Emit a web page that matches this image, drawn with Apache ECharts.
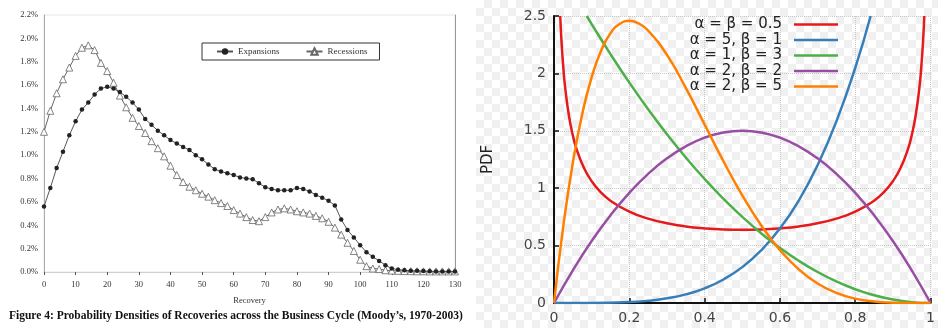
<!DOCTYPE html>
<html>
<head>
<meta charset="utf-8">
<script src="https://cdn.jsdelivr.net/npm/echarts@6/dist/echarts.min.js"></script>
<style>
  html, body { margin: 0; padding: 0; background: #fff; }
  #wrap { position: relative; width: 938px; height: 328px; }
  #checker {
    position: absolute; left: 476px; top: 0; width: 462px; height: 328px;
    background-image: conic-gradient(#f0f0f0 25%, #fff 0 50%, #f0f0f0 0 75%, #fff 0);
    background-size: 16px 16px;
  }
  #main { position: absolute; left: 0; top: 0; width: 938px; height: 328px; }
</style>
</head>
<body>
<div id="wrap">
  <div id="checker"></div>
  <div id="main"></div>
</div>
<script>
// left panel: recovery densities (percent)
var recovery = [0, 2, 4, 6, 8, 10, 12, 14, 16, 18, 20, 22, 24, 26, 28, 30, 32, 34, 36, 38,
  40, 42, 44, 46, 48, 50, 52, 54, 56, 58, 60, 62, 64, 66, 68, 70, 72, 74, 76, 78,
  80, 82, 84, 86, 88, 90, 92, 94, 96, 98, 100, 102, 104, 106, 108, 110, 112, 114, 116, 118,
  120, 122, 124, 126, 128, 130]
var expansions = [0.56, 0.72, 0.89, 1.03, 1.17, 1.29, 1.39, 1.45, 1.52, 1.57, 1.585,
  1.57, 1.54, 1.50, 1.45, 1.39, 1.31, 1.26, 1.21, 1.17, 1.13,
  1.10, 1.07, 1.045, 1.00, 0.965, 0.92, 0.88, 0.86, 0.845, 0.83,
  0.81, 0.80, 0.795, 0.76, 0.725, 0.71, 0.70, 0.70, 0.70, 0.72,
  0.71, 0.69, 0.66, 0.635, 0.61, 0.57, 0.45, 0.36, 0.295, 0.23,
  0.17, 0.13, 0.095, 0.058, 0.03, 0.02, 0.015, 0.01, 0.01, 0.008,
  0.006, 0.005, 0.005, 0.005, 0.005]
var recessions = [1.20, 1.38, 1.53, 1.65, 1.75, 1.85, 1.92, 1.94, 1.90, 1.79, 1.72,
  1.62, 1.51, 1.41, 1.32, 1.25, 1.19, 1.12, 1.06, 0.99, 0.91,
  0.83, 0.77, 0.73, 0.70, 0.67, 0.645, 0.615, 0.59, 0.565, 0.53,
  0.50, 0.47, 0.445, 0.435, 0.47, 0.51, 0.535, 0.545, 0.535, 0.52,
  0.51, 0.50, 0.48, 0.46, 0.43, 0.38, 0.32, 0.25, 0.18, 0.105,
  0.05, 0.03, 0.025, 0.015, 0.012, 0.01, 0.008, 0.007, 0.006, 0.006,
  0.005, 0.005, 0.005, 0.005, 0.005]

// right panel: beta pdf curves, [x, pdf]
var betaHalfHalf = [[0.0165, 2.5], [0.02, 2.274], [0.025, 2.039], [0.03, 1.866], [0.04, 1.624],
  [0.05, 1.461], [0.06, 1.340], [0.08, 1.173], [0.1, 1.061], [0.125, 0.962], [0.15, 0.891],
  [0.2, 0.796], [0.25, 0.735], [0.3, 0.695], [0.35, 0.667], [0.4, 0.650], [0.45, 0.640],
  [0.5, 0.637], [0.55, 0.640], [0.6, 0.650], [0.65, 0.667], [0.7, 0.695], [0.75, 0.735],
  [0.8, 0.796], [0.85, 0.891], [0.875, 0.962], [0.9, 1.061], [0.92, 1.173], [0.94, 1.340],
  [0.95, 1.461], [0.96, 1.624], [0.97, 1.866], [0.975, 2.039], [0.98, 2.274], [0.9835, 2.5]]
var betaFiveOne = [[0, 0], [0.1, 0.0005], [0.2, 0.008], [0.25, 0.0195], [0.3, 0.0405],
  [0.35, 0.075], [0.4, 0.128], [0.45, 0.205], [0.5, 0.3125], [0.55, 0.4575], [0.6, 0.648],
  [0.65, 0.8925], [0.7, 1.2005], [0.75, 1.582], [0.8, 2.048], [0.8409, 2.5]]
var betaOneThree = [[0.0871, 2.5], [0.1, 2.43], [0.15, 2.1675], [0.2, 1.92], [0.25, 1.6875],
  [0.3, 1.47], [0.35, 1.2675], [0.4, 1.08], [0.45, 0.9075], [0.5, 0.75], [0.55, 0.6075],
  [0.6, 0.48], [0.65, 0.3675], [0.7, 0.27], [0.75, 0.1875], [0.8, 0.12], [0.85, 0.0675],
  [0.9, 0.03], [0.95, 0.0075], [1, 0]]
var betaTwoTwo = [[0, 0], [0.05, 0.285], [0.1, 0.54], [0.15, 0.765], [0.2, 0.96], [0.25, 1.125],
  [0.3, 1.26], [0.35, 1.365], [0.4, 1.44], [0.45, 1.485], [0.5, 1.5], [0.55, 1.485],
  [0.6, 1.44], [0.65, 1.365], [0.7, 1.26], [0.75, 1.125], [0.8, 0.96], [0.85, 0.765],
  [0.9, 0.54], [0.95, 0.285], [1, 0]]
var betaTwoFive = [[0, 0], [0.025, 0.678], [0.05, 1.222], [0.075, 1.647], [0.1, 1.968],
  [0.125, 2.198], [0.15, 2.350], [0.175, 2.432], [0.2, 2.458], [0.225, 2.435], [0.25, 2.373],
  [0.3, 2.161], [0.35, 1.874], [0.4, 1.555], [0.45, 1.235], [0.5, 0.9375], [0.55, 0.677],
  [0.6, 0.461], [0.65, 0.293], [0.7, 0.170], [0.75, 0.088], [0.8, 0.038], [0.85, 0.013],
  [0.9, 0.003], [0.95, 0.0002], [1, 0]]

var betaNames = ['α = β = 0.5', 'α = 5, β = 1', 'α = 1, β = 3', 'α = 2, β = 2', 'α = 2, β = 5']
var betaColors = ['#e41a1c', '#377eb8', '#4daf4a', '#984ea3', '#ff7f00']
var betaData = [betaHalfHalf, betaFiveOne, betaOneThree, betaTwoTwo, betaTwoFive]

function pairs(xs, ys) {
  return xs.map(function(x, i) { return [x, ys[i]] })
}

var serif = '"Liberation Serif", "DejaVu Serif", serif'
var sans = '"DejaVu Sans", sans-serif'

var series = [
  {
    name: 'Expansions',
    type: 'line',
    xAxisIndex: 0,
    yAxisIndex: 0,
    data: pairs(recovery, expansions),
    symbol: 'circle',
    symbolSize: 4.5,
    lineStyle: { color: '#555', width: 1 },
    itemStyle: { color: '#222', borderColor: '#222', borderWidth: 0 },
    z: 3
  },
  {
    name: 'Recessions',
    type: 'line',
    xAxisIndex: 0,
    yAxisIndex: 0,
    data: pairs(recovery, recessions),
    symbol: 'triangle',
    symbolSize: 7,
    lineStyle: { color: '#666', width: 1 },
    itemStyle: { color: '#fff', borderColor: '#666', borderWidth: 0.8 },
    z: 2
  }
]

for (var i = 0; i < betaNames.length; i++) {
  series.push({
    name: betaNames[i],
    type: 'line',
    xAxisIndex: 1,
    yAxisIndex: 2,
    data: betaData[i],
    symbol: 'none',
    smooth: true,
    clip: true,
    lineStyle: { color: betaColors[i], width: 2.5 },
    itemStyle: { color: betaColors[i] }
  })
}

var chart = echarts.init(document.getElementById('main'), null, { renderer: 'canvas' })
chart.setOption({
  backgroundColor: 'transparent',
  animation: false,
  title: {
    text: 'Figure 4: Probability Densities of Recoveries across the Business Cycle (Moody\u2019s, 1970-2003)',
    left: 9,
    top: 310,
    padding: 0,
    textStyle: { fontFamily: serif, fontWeight: 'bold', fontSize: 11.5, color: '#111' }
  },
  legend: [
    {
      data: ['Expansions', 'Recessions'],
      left: 202,
      top: 43,
      orient: 'horizontal',
      padding: [4, 12, 4, 14],
      itemGap: 26,
      itemWidth: 16,
      itemHeight: 8,
      borderColor: '#333',
      borderWidth: 1,
      backgroundColor: '#fff',
      textStyle: { fontFamily: serif, fontSize: 9, color: '#333' }
    },
    {
      data: betaNames.map(function(n) { return { name: n, icon: 'rect' } }),
      right: 100,
      top: 17,
      orient: 'vertical',
      align: 'right',
      padding: 0,
      itemGap: 0.5,
      itemWidth: 44,
      itemHeight: 2.5,
      textStyle: { fontFamily: sans, fontSize: 15, lineHeight: 15, color: '#222', padding: [0, 7, 0, 0] }
    }
  ],
  grid: [
    { left: 44, right: 483, top: 15, bottom: 56, show: true, borderColor: '#e6e6e6', borderWidth: 1 },
    { left: 554, right: 7, top: 16, bottom: 25 }
  ],
  xAxis: [
    {
      gridIndex: 0,
      type: 'value',
      min: 0,
      max: 130,
      interval: 10,
      name: 'Recovery',
      nameLocation: 'middle',
      nameGap: 24,
      nameTextStyle: { fontFamily: serif, fontSize: 8.5, color: '#333' },
      axisLine: { lineStyle: { color: '#d0d0d0', width: 1 } },
      axisTick: { show: true, length: 3, lineStyle: { color: '#555' } },
      axisLabel: { fontFamily: serif, fontSize: 8.5, color: '#333', margin: 8 },
      splitLine: { show: false }
    },
    {
      gridIndex: 1,
      type: 'value',
      min: 0,
      max: 1,
      interval: 0.2,
      axisLine: { onZero: false, lineStyle: { color: '#111', width: 2 } },
      axisTick: { show: true, inside: true, length: 5, lineStyle: { color: '#111', width: 1.5 } },
      axisLabel: { fontFamily: sans, fontSize: 14, color: '#444', margin: 8 },
      splitLine: { show: true, lineStyle: { color: '#c8c8c8', type: 'dotted', width: 1 } }
    }
  ],
  yAxis: [
    {
      gridIndex: 0,
      type: 'value',
      min: 0,
      max: 2.2,
      interval: 0.2,
      axisLine: { show: true, lineStyle: { color: '#aaa', width: 1 } },
      axisTick: { show: false },
      axisLabel: {
        fontFamily: serif,
        fontSize: 8.5,
        color: '#333',
        margin: 6,
        formatter: function(v) { return v.toFixed(1) + '%' }
      },
      splitLine: { show: false }
    },
    {
      gridIndex: 0,
      type: 'value',
      position: 'right',
      min: 0,
      max: 2.2,
      interval: 0.2,
      axisLine: { show: true, lineStyle: { color: '#999', width: 1 } },
      axisTick: { show: false },
      axisLabel: { show: false },
      splitLine: { show: false }
    },
    {
      gridIndex: 1,
      type: 'value',
      min: 0,
      max: 2.5,
      interval: 0.5,
      name: 'PDF',
      nameLocation: 'middle',
      nameGap: 58,
      nameTextStyle: { fontFamily: sans, fontSize: 15, color: '#222' },
      axisLine: { show: true, onZero: false, lineStyle: { color: '#111', width: 2 } },
      axisTick: { show: true, inside: true, length: 5, lineStyle: { color: '#111', width: 1.5 } },
      axisLabel: { fontFamily: sans, fontSize: 14, color: '#444', margin: 8 },
      splitLine: { show: true, lineStyle: { color: '#c8c8c8', type: 'dotted', width: 1 } }
    }
  ],
  series: series
})
</script>
</body>
</html>
